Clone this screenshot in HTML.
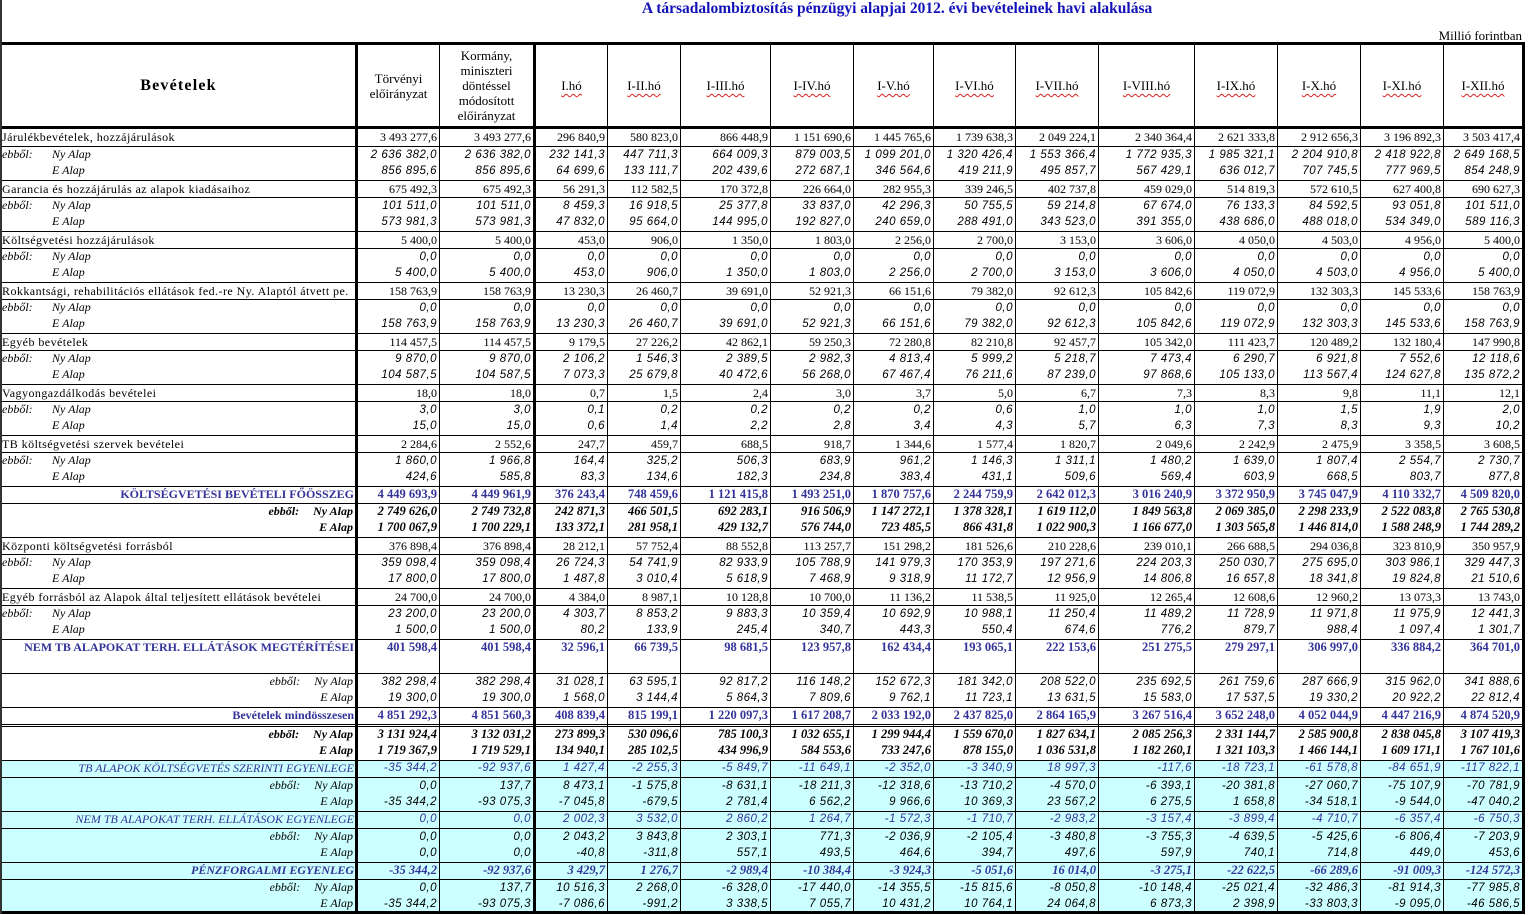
<!DOCTYPE html>
<html><head><meta charset="utf-8">
<style>
*{margin:0;padding:0;box-sizing:border-box}
body{width:1530px;height:915px;position:relative;background:#fff;font-family:"Liberation Serif",serif;color:#000;overflow:hidden}
.title{position:absolute;left:642px;top:0;font:bold 15.5px/18px "Liberation Serif",serif;color:#1212b8;white-space:nowrap}
.unit{position:absolute;right:8px;top:28px;font:13px/16px "Liberation Serif",serif;white-space:nowrap}
.hl{position:absolute;left:0;width:1525px;background:#000}
.v{position:absolute;top:42px;height:872px;width:1px;background:#000}
.vk{width:3px}
.hd{position:absolute;top:45px;height:81px;display:flex;align-items:center;justify-content:center;text-align:center;font:13px/15px "Liberation Serif",serif}
.hd u{text-decoration:underline wavy #e02020;text-decoration-thickness:1px;text-underline-offset:3px}
.body{position:absolute;left:2px;top:129px;width:1520px}
.r{display:flex;height:17px;line-height:17px;white-space:nowrap}
.r>span{display:block;text-align:right;padding-right:2px;overflow:hidden;font-size:12px}
.r>span:nth-child(1){width:353px;text-align:left;padding-right:0}
.r>span:nth-child(2){width:84px}
.r>span:nth-child(3){width:94px}
.r>span:nth-child(4){width:74px}
.r>span:nth-child(5){width:73px}
.r>span:nth-child(6){width:90px}
.r>span:nth-child(7){width:83px}
.r>span:nth-child(8){width:80px}
.r>span:nth-child(9){width:82px}
.r>span:nth-child(10){width:83px}
.r>span:nth-child(11){width:96px}
.r>span:nth-child(12){width:83px}
.r>span:nth-child(13){width:83px}
.r>span:nth-child(14){width:83px}
.r>span:nth-child(15){width:79px}
.t{border-top:1px solid #000;line-height:16px}
.m>span:first-child{letter-spacing:.45px}
.s>span{font:italic 11.5px "Liberation Sans",sans-serif;letter-spacing:.5px;position:relative;top:1.5px}
.s>span:first-child,.ns>span:first-child{font:italic 12px "Liberation Serif",serif;letter-spacing:0;top:0}
.e{display:inline-block;width:50px;font-style:italic}
.k>span{font:bold 12.5px "Liberation Serif",serif;color:#333399}
.k>span:first-child{text-align:right;font-size:12px;padding-right:1px}
.kb>span{font:italic bold 12.5px "Liberation Serif",serif}
.kb>span:first-child{text-align:right;font-size:12px;padding-right:2px}
.ns>span{font:italic 11.5px "Liberation Sans",sans-serif;letter-spacing:.5px;position:relative;top:1.5px}
.ns>span:first-child{text-align:right;padding-right:2px}
.g{margin-right:14px}
.tall{height:34px;line-height:24px}
.dbl{height:19px;border-top:3px double #000;line-height:16px}
.c{background:#ccffff}
.ci>span{font:italic 11.5px "Liberation Sans",sans-serif;letter-spacing:.5px;color:#333399;position:relative;top:1px}
.ci>span:first-child{font:italic 12px "Liberation Serif",serif;letter-spacing:0;text-align:right;padding-right:1px;top:0}
.cb>span{font:italic bold 12.5px "Liberation Serif",serif;color:#333399}
.cb>span:first-child{text-align:right;font-size:12px;padding-right:1px}
</style></head><body>
<div class="title">A társadalombiztosítás pénzügyi alapjai 2012. évi bevételeinek havi alakulása</div>
<div class="unit">Millió forintban</div>

<div class="hd" style="left:2px;width:353px;font:bold 16px/20px 'Liberation Serif',serif;letter-spacing:1.2px">Bevételek</div>
<div class="hd" style="left:358px;width:81px">Törvényi<br>előirányzat</div>
<div class="hd" style="left:440px;width:93px">Kormány,<br>miniszteri<br>döntéssel<br>módosított<br>előirányzat</div>
<div class="hd" style="left:536px;width:71px"><u>I.hó</u></div>
<div class="hd" style="left:608px;width:72px"><u>I-II.hó</u></div>
<div class="hd" style="left:681px;width:89px"><u>I-III.hó</u></div>
<div class="hd" style="left:771px;width:82px"><u>I-IV.hó</u></div>
<div class="hd" style="left:854px;width:79px"><u>I-V.hó</u></div>
<div class="hd" style="left:934px;width:81px"><u>I-VI.hó</u></div>
<div class="hd" style="left:1016px;width:82px"><u>I-VII.hó</u></div>
<div class="hd" style="left:1099px;width:95px"><u>I-VIII.hó</u></div>
<div class="hd" style="left:1195px;width:82px"><u>I-IX.hó</u></div>
<div class="hd" style="left:1278px;width:82px"><u>I-X.hó</u></div>
<div class="hd" style="left:1361px;width:82px"><u>I-XI.hó</u></div>
<div class="hd" style="left:1444px;width:78px"><u>I-XII.hó</u></div>

<div class="body">
<div class="r m"><span>Járulékbevételek, hozzájárulások</span><span>3 493 277,6</span><span>3 493 277,6</span><span>296 840,9</span><span>580 823,0</span><span>866 448,9</span><span>1 151 690,6</span><span>1 445 765,6</span><span>1 739 638,3</span><span>2 049 224,1</span><span>2 340 364,4</span><span>2 621 333,8</span><span>2 912 656,3</span><span>3 196 892,3</span><span>3 503 417,4</span></div>
<div class="r s t"><span><i class="e">ebből:</i>Ny Alap</span><span>2 636 382,0</span><span>2 636 382,0</span><span>232 141,3</span><span>447 711,3</span><span>664 009,3</span><span>879 003,5</span><span>1 099 201,0</span><span>1 320 426,4</span><span>1 553 366,4</span><span>1 772 935,3</span><span>1 985 321,1</span><span>2 204 910,8</span><span>2 418 922,8</span><span>2 649 168,5</span></div>
<div class="r s"><span><i class="e"></i>E Alap</span><span>856 895,6</span><span>856 895,6</span><span>64 699,6</span><span>133 111,7</span><span>202 439,6</span><span>272 687,1</span><span>346 564,6</span><span>419 211,9</span><span>495 857,7</span><span>567 429,1</span><span>636 012,7</span><span>707 745,5</span><span>777 969,5</span><span>854 248,9</span></div>

<div class="r m t"><span>Garancia és hozzájárulás az alapok kiadásaihoz</span><span>675 492,3</span><span>675 492,3</span><span>56 291,3</span><span>112 582,5</span><span>170 372,8</span><span>226 664,0</span><span>282 955,3</span><span>339 246,5</span><span>402 737,8</span><span>459 029,0</span><span>514 819,3</span><span>572 610,5</span><span>627 400,8</span><span>690 627,3</span></div>
<div class="r s t"><span><i class="e">ebből:</i>Ny Alap</span><span>101 511,0</span><span>101 511,0</span><span>8 459,3</span><span>16 918,5</span><span>25 377,8</span><span>33 837,0</span><span>42 296,3</span><span>50 755,5</span><span>59 214,8</span><span>67 674,0</span><span>76 133,3</span><span>84 592,5</span><span>93 051,8</span><span>101 511,0</span></div>
<div class="r s"><span><i class="e"></i>E Alap</span><span>573 981,3</span><span>573 981,3</span><span>47 832,0</span><span>95 664,0</span><span>144 995,0</span><span>192 827,0</span><span>240 659,0</span><span>288 491,0</span><span>343 523,0</span><span>391 355,0</span><span>438 686,0</span><span>488 018,0</span><span>534 349,0</span><span>589 116,3</span></div>

<div class="r m t"><span>Költségvetési hozzájárulások</span><span>5 400,0</span><span>5 400,0</span><span>453,0</span><span>906,0</span><span>1 350,0</span><span>1 803,0</span><span>2 256,0</span><span>2 700,0</span><span>3 153,0</span><span>3 606,0</span><span>4 050,0</span><span>4 503,0</span><span>4 956,0</span><span>5 400,0</span></div>
<div class="r s t"><span><i class="e">ebből:</i>Ny Alap</span><span>0,0</span><span>0,0</span><span>0,0</span><span>0,0</span><span>0,0</span><span>0,0</span><span>0,0</span><span>0,0</span><span>0,0</span><span>0,0</span><span>0,0</span><span>0,0</span><span>0,0</span><span>0,0</span></div>
<div class="r s"><span><i class="e"></i>E Alap</span><span>5 400,0</span><span>5 400,0</span><span>453,0</span><span>906,0</span><span>1 350,0</span><span>1 803,0</span><span>2 256,0</span><span>2 700,0</span><span>3 153,0</span><span>3 606,0</span><span>4 050,0</span><span>4 503,0</span><span>4 956,0</span><span>5 400,0</span></div>

<div class="r m t"><span>Rokkantsági, rehabilitációs ellátások fed.-re Ny. Alaptól átvett pe.</span><span>158 763,9</span><span>158 763,9</span><span>13 230,3</span><span>26 460,7</span><span>39 691,0</span><span>52 921,3</span><span>66 151,6</span><span>79 382,0</span><span>92 612,3</span><span>105 842,6</span><span>119 072,9</span><span>132 303,3</span><span>145 533,6</span><span>158 763,9</span></div>
<div class="r s t"><span><i class="e">ebből:</i>Ny Alap</span><span>0,0</span><span>0,0</span><span>0,0</span><span>0,0</span><span>0,0</span><span>0,0</span><span>0,0</span><span>0,0</span><span>0,0</span><span>0,0</span><span>0,0</span><span>0,0</span><span>0,0</span><span>0,0</span></div>
<div class="r s"><span><i class="e"></i>E Alap</span><span>158 763,9</span><span>158 763,9</span><span>13 230,3</span><span>26 460,7</span><span>39 691,0</span><span>52 921,3</span><span>66 151,6</span><span>79 382,0</span><span>92 612,3</span><span>105 842,6</span><span>119 072,9</span><span>132 303,3</span><span>145 533,6</span><span>158 763,9</span></div>

<div class="r m t"><span>Egyéb bevételek</span><span>114 457,5</span><span>114 457,5</span><span>9 179,5</span><span>27 226,2</span><span>42 862,1</span><span>59 250,3</span><span>72 280,8</span><span>82 210,8</span><span>92 457,7</span><span>105 342,0</span><span>111 423,7</span><span>120 489,2</span><span>132 180,4</span><span>147 990,8</span></div>
<div class="r s t"><span><i class="e">ebből:</i>Ny Alap</span><span>9 870,0</span><span>9 870,0</span><span>2 106,2</span><span>1 546,3</span><span>2 389,5</span><span>2 982,3</span><span>4 813,4</span><span>5 999,2</span><span>5 218,7</span><span>7 473,4</span><span>6 290,7</span><span>6 921,8</span><span>7 552,6</span><span>12 118,6</span></div>
<div class="r s"><span><i class="e"></i>E Alap</span><span>104 587,5</span><span>104 587,5</span><span>7 073,3</span><span>25 679,8</span><span>40 472,6</span><span>56 268,0</span><span>67 467,4</span><span>76 211,6</span><span>87 239,0</span><span>97 868,6</span><span>105 133,0</span><span>113 567,4</span><span>124 627,8</span><span>135 872,2</span></div>

<div class="r m t"><span>Vagyongazdálkodás bevételei</span><span>18,0</span><span>18,0</span><span>0,7</span><span>1,5</span><span>2,4</span><span>3,0</span><span>3,7</span><span>5,0</span><span>6,7</span><span>7,3</span><span>8,3</span><span>9,8</span><span>11,1</span><span>12,1</span></div>
<div class="r s t"><span><i class="e">ebből:</i>Ny Alap</span><span>3,0</span><span>3,0</span><span>0,1</span><span>0,2</span><span>0,2</span><span>0,2</span><span>0,2</span><span>0,6</span><span>1,0</span><span>1,0</span><span>1,0</span><span>1,5</span><span>1,9</span><span>2,0</span></div>
<div class="r s"><span><i class="e"></i>E Alap</span><span>15,0</span><span>15,0</span><span>0,6</span><span>1,4</span><span>2,2</span><span>2,8</span><span>3,4</span><span>4,3</span><span>5,7</span><span>6,3</span><span>7,3</span><span>8,3</span><span>9,3</span><span>10,2</span></div>

<div class="r m t"><span>TB költségvetési szervek bevételei</span><span>2 284,6</span><span>2 552,6</span><span>247,7</span><span>459,7</span><span>688,5</span><span>918,7</span><span>1 344,6</span><span>1 577,4</span><span>1 820,7</span><span>2 049,6</span><span>2 242,9</span><span>2 475,9</span><span>3 358,5</span><span>3 608,5</span></div>
<div class="r s t"><span><i class="e">ebből:</i>Ny Alap</span><span>1 860,0</span><span>1 966,8</span><span>164,4</span><span>325,2</span><span>506,3</span><span>683,9</span><span>961,2</span><span>1 146,3</span><span>1 311,1</span><span>1 480,2</span><span>1 639,0</span><span>1 807,4</span><span>2 554,7</span><span>2 730,7</span></div>
<div class="r s"><span><i class="e"></i>E Alap</span><span>424,6</span><span>585,8</span><span>83,3</span><span>134,6</span><span>182,3</span><span>234,8</span><span>383,4</span><span>431,1</span><span>509,6</span><span>569,4</span><span>603,9</span><span>668,5</span><span>803,7</span><span>877,8</span></div>

<div class="r k t"><span>KÖLTSÉGVETÉSI BEVÉTELI FŐÖSSZEG</span><span>4 449 693,9</span><span>4 449 961,9</span><span>376 243,4</span><span>748 459,6</span><span>1 121 415,8</span><span>1 493 251,0</span><span>1 870 757,6</span><span>2 244 759,9</span><span>2 642 012,3</span><span>3 016 240,9</span><span>3 372 950,9</span><span>3 745 047,9</span><span>4 110 332,7</span><span>4 509 820,0</span></div>
<div class="r kb t"><span><i class="g">ebből:</i>Ny Alap</span><span>2 749 626,0</span><span>2 749 732,8</span><span>242 871,3</span><span>466 501,5</span><span>692 283,1</span><span>916 506,9</span><span>1 147 272,1</span><span>1 378 328,1</span><span>1 619 112,0</span><span>1 849 563,8</span><span>2 069 385,0</span><span>2 298 233,9</span><span>2 522 083,8</span><span>2 765 530,8</span></div>
<div class="r kb"><span>E Alap</span><span>1 700 067,9</span><span>1 700 229,1</span><span>133 372,1</span><span>281 958,1</span><span>429 132,7</span><span>576 744,0</span><span>723 485,5</span><span>866 431,8</span><span>1 022 900,3</span><span>1 166 677,0</span><span>1 303 565,8</span><span>1 446 814,0</span><span>1 588 248,9</span><span>1 744 289,2</span></div>

<div class="r m t"><span>Központi költségvetési forrásból</span><span>376 898,4</span><span>376 898,4</span><span>28 212,1</span><span>57 752,4</span><span>88 552,8</span><span>113 257,7</span><span>151 298,2</span><span>181 526,6</span><span>210 228,6</span><span>239 010,1</span><span>266 688,5</span><span>294 036,8</span><span>323 810,9</span><span>350 957,9</span></div>
<div class="r s t"><span><i class="e">ebből:</i>Ny Alap</span><span>359 098,4</span><span>359 098,4</span><span>26 724,3</span><span>54 741,9</span><span>82 933,9</span><span>105 788,9</span><span>141 979,3</span><span>170 353,9</span><span>197 271,6</span><span>224 203,3</span><span>250 030,7</span><span>275 695,0</span><span>303 986,1</span><span>329 447,3</span></div>
<div class="r s"><span><i class="e"></i>E Alap</span><span>17 800,0</span><span>17 800,0</span><span>1 487,8</span><span>3 010,4</span><span>5 618,9</span><span>7 468,9</span><span>9 318,9</span><span>11 172,7</span><span>12 956,9</span><span>14 806,8</span><span>16 657,8</span><span>18 341,8</span><span>19 824,8</span><span>21 510,6</span></div>

<div class="r m t"><span>Egyéb forrásból az Alapok által teljesített ellátások bevételei</span><span>24 700,0</span><span>24 700,0</span><span>4 384,0</span><span>8 987,1</span><span>10 128,8</span><span>10 700,0</span><span>11 136,2</span><span>11 538,5</span><span>11 925,0</span><span>12 265,4</span><span>12 608,6</span><span>12 960,2</span><span>13 073,3</span><span>13 743,0</span></div>
<div class="r s t"><span><i class="e">ebből:</i>Ny Alap</span><span>23 200,0</span><span>23 200,0</span><span>4 303,7</span><span>8 853,2</span><span>9 883,3</span><span>10 359,4</span><span>10 692,9</span><span>10 988,1</span><span>11 250,4</span><span>11 489,2</span><span>11 728,9</span><span>11 971,8</span><span>11 975,9</span><span>12 441,3</span></div>
<div class="r s"><span><i class="e"></i>E Alap</span><span>1 500,0</span><span>1 500,0</span><span>80,2</span><span>133,9</span><span>245,4</span><span>340,7</span><span>443,3</span><span>550,4</span><span>674,6</span><span>776,2</span><span>879,7</span><span>988,4</span><span>1 097,4</span><span>1 301,7</span></div>

<div class="r k t tall"><span>NEM TB ALAPOKAT TERH. ELLÁTÁSOK MEGTÉRÍTÉSEI</span><span>401 598,4</span><span>401 598,4</span><span>32 596,1</span><span>66 739,5</span><span>98 681,5</span><span>123 957,8</span><span>162 434,4</span><span>193 065,1</span><span>222 153,6</span><span>251 275,5</span><span>279 297,1</span><span>306 997,0</span><span>336 884,2</span><span>364 701,0</span></div>
<div class="r ns t"><span><i class="g">ebből:</i>Ny Alap</span><span>382 298,4</span><span>382 298,4</span><span>31 028,1</span><span>63 595,1</span><span>92 817,2</span><span>116 148,2</span><span>152 672,3</span><span>181 342,0</span><span>208 522,0</span><span>235 692,5</span><span>261 759,6</span><span>287 666,9</span><span>315 962,0</span><span>341 888,6</span></div>
<div class="r ns"><span>E Alap</span><span>19 300,0</span><span>19 300,0</span><span>1 568,0</span><span>3 144,4</span><span>5 864,3</span><span>7 809,6</span><span>9 762,1</span><span>11 723,1</span><span>13 631,5</span><span>15 583,0</span><span>17 537,5</span><span>19 330,2</span><span>20 922,2</span><span>22 812,4</span></div>

<div class="r k t"><span>Bevételek mindösszesen</span><span>4 851 292,3</span><span>4 851 560,3</span><span>408 839,4</span><span>815 199,1</span><span>1 220 097,3</span><span>1 617 208,7</span><span>2 033 192,0</span><span>2 437 825,0</span><span>2 864 165,9</span><span>3 267 516,4</span><span>3 652 248,0</span><span>4 052 044,9</span><span>4 447 216,9</span><span>4 874 520,9</span></div>
<div class="r kb dbl"><span><i class="g">ebből:</i>Ny Alap</span><span>3 131 924,4</span><span>3 132 031,2</span><span>273 899,3</span><span>530 096,6</span><span>785 100,3</span><span>1 032 655,1</span><span>1 299 944,4</span><span>1 559 670,0</span><span>1 827 634,1</span><span>2 085 256,3</span><span>2 331 144,7</span><span>2 585 900,8</span><span>2 838 045,8</span><span>3 107 419,3</span></div>
<div class="r kb"><span>E Alap</span><span>1 719 367,9</span><span>1 719 529,1</span><span>134 940,1</span><span>285 102,5</span><span>434 996,9</span><span>584 553,6</span><span>733 247,6</span><span>878 155,0</span><span>1 036 531,8</span><span>1 182 260,1</span><span>1 321 103,3</span><span>1 466 144,1</span><span>1 609 171,1</span><span>1 767 101,6</span></div>

<div class="r c ci t"><span>TB ALAPOK KÖLTSÉGVETÉS SZERINTI EGYENLEGE</span><span>-35 344,2</span><span>-92 937,6</span><span>1 427,4</span><span>-2 255,3</span><span>-5 849,7</span><span>-11 649,1</span><span>-2 352,0</span><span>-3 340,9</span><span>18 997,3</span><span>-117,6</span><span>-18 723,1</span><span>-61 578,8</span><span>-84 651,9</span><span>-117 822,1</span></div>
<div class="r c ns t"><span><i class="g">ebből:</i>Ny Alap</span><span>0,0</span><span>137,7</span><span>8 473,1</span><span>-1 575,8</span><span>-8 631,1</span><span>-18 211,3</span><span>-12 318,6</span><span>-13 710,2</span><span>-4 570,0</span><span>-6 393,1</span><span>-20 381,8</span><span>-27 060,7</span><span>-75 107,9</span><span>-70 781,9</span></div>
<div class="r c ns"><span>E Alap</span><span>-35 344,2</span><span>-93 075,3</span><span>-7 045,8</span><span>-679,5</span><span>2 781,4</span><span>6 562,2</span><span>9 966,6</span><span>10 369,3</span><span>23 567,2</span><span>6 275,5</span><span>1 658,8</span><span>-34 518,1</span><span>-9 544,0</span><span>-47 040,2</span></div>

<div class="r c ci t"><span>NEM TB ALAPOKAT TERH. ELLÁTÁSOK EGYENLEGE</span><span>0,0</span><span>0,0</span><span>2 002,3</span><span>3 532,0</span><span>2 860,2</span><span>1 264,7</span><span>-1 572,3</span><span>-1 710,7</span><span>-2 983,2</span><span>-3 157,4</span><span>-3 899,4</span><span>-4 710,7</span><span>-6 357,4</span><span>-6 750,3</span></div>
<div class="r c ns t"><span><i class="g">ebből:</i>Ny Alap</span><span>0,0</span><span>0,0</span><span>2 043,2</span><span>3 843,8</span><span>2 303,1</span><span>771,3</span><span>-2 036,9</span><span>-2 105,4</span><span>-3 480,8</span><span>-3 755,3</span><span>-4 639,5</span><span>-5 425,6</span><span>-6 806,4</span><span>-7 203,9</span></div>
<div class="r c ns"><span>E Alap</span><span>0,0</span><span>0,0</span><span>-40,8</span><span>-311,8</span><span>557,1</span><span>493,5</span><span>464,6</span><span>394,7</span><span>497,6</span><span>597,9</span><span>740,1</span><span>714,8</span><span>449,0</span><span>453,6</span></div>

<div class="r c cb t"><span>PÉNZFORGALMI EGYENLEG</span><span>-35 344,2</span><span>-92 937,6</span><span>3 429,7</span><span>1 276,7</span><span>-2 989,4</span><span>-10 384,4</span><span>-3 924,3</span><span>-5 051,6</span><span>16 014,0</span><span>-3 275,1</span><span>-22 622,5</span><span>-66 289,6</span><span>-91 009,3</span><span>-124 572,3</span></div>
<div class="r c ns t"><span><i class="g">ebből:</i>Ny Alap</span><span>0,0</span><span>137,7</span><span>10 516,3</span><span>2 268,0</span><span>-6 328,0</span><span>-17 440,0</span><span>-14 355,5</span><span>-15 815,6</span><span>-8 050,8</span><span>-10 148,4</span><span>-25 021,4</span><span>-32 486,3</span><span>-81 914,3</span><span>-77 985,8</span></div>
<div class="r c ns"><span>E Alap</span><span>-35 344,2</span><span>-93 075,3</span><span>-7 086,6</span><span>-991,2</span><span>3 338,5</span><span>7 055,7</span><span>10 431,2</span><span>10 764,1</span><span>24 064,8</span><span>6 873,3</span><span>2 398,9</span><span>-33 803,3</span><span>-9 095,0</span><span>-46 586,5</span></div>
</div>

<div class="hl" style="top:42px;height:3px"></div>
<div class="hl" style="top:126px;height:3px"></div>
<div class="hl" style="top:911px;height:3px"></div>
<div class="v" style="left:0;top:0;height:914px;width:2px;background:#333"></div>
<div class="v vk" style="left:355px"></div>
<div class="v" style="left:439px"></div>
<div class="v vk" style="left:533px"></div>
<div class="v" style="left:607px"></div>
<div class="v" style="left:680px"></div>
<div class="v" style="left:770px"></div>
<div class="v" style="left:853px"></div>
<div class="v" style="left:933px"></div>
<div class="v" style="left:1015px"></div>
<div class="v" style="left:1098px"></div>
<div class="v" style="left:1194px"></div>
<div class="v" style="left:1277px"></div>
<div class="v" style="left:1360px"></div>
<div class="v" style="left:1443px"></div>
<div class="v vk" style="left:1522px"></div>
</body></html>
